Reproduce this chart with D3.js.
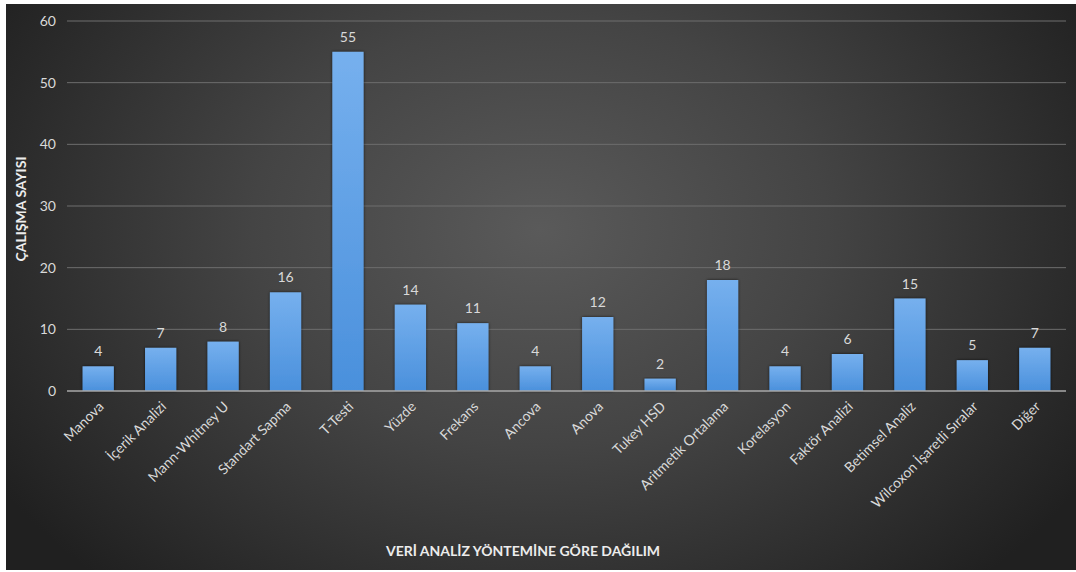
<!DOCTYPE html>
<html>
<head>
<meta charset="utf-8">
<script src="https://cdn.jsdelivr.net/npm/d3@7"></script>
<style>
  html, body { margin: 0; padding: 0; background: #ffffff; }
  svg { display: block; }
</style>
</head>
<body>
<script>
// Analysis methods and how many studies used each
const categories = [
  "Manova", "İçerik Analizi", "Mann-Whitney U", "Standart Sapma", "T-Testi",
  "Yüzde", "Frekans", "Ancova", "Anova", "Tukey HSD", "Aritmetik Ortalama",
  "Korelasyon", "Faktör Analizi", "Betimsel Analiz", "Wilcoxon İşaretli Sıralar", "Diğer"
];
const counts = [4, 7, 8, 16, 55, 14, 11, 4, 12, 2, 18, 4, 6, 15, 5, 7];
const yTicks = [0, 10, 20, 30, 40, 50, 60];
const yTitle = "ÇALIŞMA SAYISI";
const xTitle = "VERİ ANALİZ YÖNTEMİNE GÖRE DAĞILIM";

const W = 1076, H = 572;
const panel = { x: 6, y: 4, w: 1070, h: 566 };
const plot = { left: 67, right: 1066, top: 21, bottom: 391 };
const font = "Lato, 'Open Sans', 'DejaVu Sans', sans-serif";
const fs = "14px";

const svg = d3.select("body").append("svg")
  .attr("width", W).attr("height", H);

const defs = svg.append("defs");
const bg = defs.append("radialGradient").attr("id", "bg")
  .attr("gradientUnits", "userSpaceOnUse")
  .attr("cx", 540).attr("cy", 230).attr("r", 640)
  .attr("gradientTransform", "translate(540,230) scale(1,0.75) translate(-540,-230)");
bg.append("stop").attr("offset", "0%").attr("stop-color", "#5a5a5a");
bg.append("stop").attr("offset", "45%").attr("stop-color", "#444444");
bg.append("stop").attr("offset", "100%").attr("stop-color", "#202020");

const barGrad = defs.append("linearGradient").attr("id", "bar")
  .attr("x1", 0).attr("y1", 0).attr("x2", 0).attr("y2", 1);
barGrad.append("stop").attr("offset", "0%").attr("stop-color", "#76b0ee");
barGrad.append("stop").attr("offset", "100%").attr("stop-color", "#4a90dc");

const shadow = defs.append("filter").attr("id", "shadow")
  .attr("x", "-30%").attr("y", "-10%").attr("width", "160%").attr("height", "130%");
shadow.append("feDropShadow").attr("dx", 0).attr("dy", 0)
  .attr("stdDeviation", 1.6).attr("flood-color", "#000").attr("flood-opacity", 0.7);

svg.append("rect")
  .attr("x", panel.x).attr("y", panel.y).attr("width", panel.w).attr("height", panel.h)
  .attr("fill", "url(#bg)");

const x = d3.scaleBand().domain(categories)
  .range([plot.left, plot.right]).paddingInner(0.5).paddingOuter(0.25);
const y = d3.scaleLinear().domain([0, 60]).range([plot.bottom, plot.top]);

// horizontal gridlines
svg.append("g").selectAll("line").data(yTicks.filter(d => d > 0)).join("line")
  .attr("x1", plot.left).attr("x2", plot.right)
  .attr("y1", d => y(d)).attr("y2", d => y(d))
  .attr("stroke", "#6e6e6e").attr("stroke-width", 1);

// y axis labels
const yAxis = svg.append("g")
  .attr("transform", `translate(${plot.left - 11},0)`)
  .call(d3.axisLeft(y).tickValues(yTicks).tickSize(0).tickPadding(0));
yAxis.select(".domain").remove();
yAxis.selectAll("text")
  .attr("fill", "#d9d9d9").style("font-family", font).style("font-size", fs);

// bars
svg.append("g").selectAll("rect").data(categories).join("rect")
  .attr("x", d => x(d)).attr("width", x.bandwidth())
  .attr("y", (d, i) => y(counts[i]))
  .attr("height", (d, i) => y(0) - y(counts[i]))
  .attr("fill", "url(#bar)")
  .attr("filter", "url(#shadow)");

// baseline
svg.append("line")
  .attr("x1", plot.left).attr("x2", plot.right)
  .attr("y1", y(0)).attr("y2", y(0))
  .attr("stroke", "#a8a8a8").attr("stroke-width", 1.3);

// value labels
svg.append("g").selectAll("text").data(categories).join("text")
  .attr("x", d => x(d) + x.bandwidth() / 2)
  .attr("y", (d, i) => y(counts[i]) - 10)
  .attr("text-anchor", "middle")
  .attr("fill", "#d9d9d9")
  .style("font-family", font).style("font-size", fs)
  .text((d, i) => counts[i]);

// category labels, rotated
const xAxis = svg.append("g")
  .attr("transform", `translate(0,${plot.bottom})`)
  .call(d3.axisBottom(x).tickSize(0).tickPadding(0));
xAxis.select(".domain").remove();
xAxis.selectAll("text")
  .attr("fill", "#d9d9d9")
  .style("font-family", font).style("font-size", fs)
  .attr("text-anchor", "end")
  .attr("dy", "0.35em")
  .attr("transform", "translate(3,13) rotate(-45)");

// axis titles
svg.append("text")
  .attr("transform", `translate(26,${(plot.top + plot.bottom) / 2 + 3}) rotate(-90)`)
  .attr("text-anchor", "middle")
  .attr("fill", "#ececec")
  .style("font-family", font).style("font-weight", "bold").style("font-size", fs)
  .text(yTitle);

svg.append("text")
  .attr("x", 523).attr("y", 556)
  .attr("text-anchor", "middle")
  .attr("fill", "#ececec")
  .style("font-family", font).style("font-weight", "bold").style("font-size", fs)
  .text(xTitle);
</script>
</body>
</html>
